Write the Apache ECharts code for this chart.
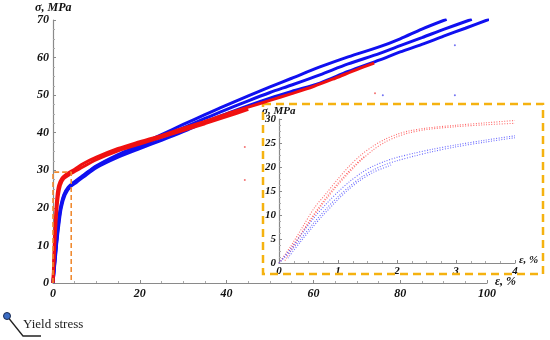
<!DOCTYPE html>
<html><head><meta charset="utf-8">
<script src="https://cdn.jsdelivr.net/npm/echarts@6/dist/echarts.min.js"></script>
<style>html,body{margin:0;padding:0;background:#fff}#c{width:550px;height:340px}</style>
</head><body><div id="c"></div>
<script>
// Main chart: strain ε (%) vs stress σ (MPa)
const redMain1 = [[0,0],[0.3,10],[0.6,18],[0.9,23],[1.3,26],[2,27.8],[3,28.9],[5,30.3],[7,31.8],[10,33.5],[15,35.8],[20,37.6],[25,39.3],[30,41.2],[35,43],[40,45],[45,46.8],[50,48.6],[55,50.4],[60,52.3],[65,54.5],[70,56.8],[74,58.5]];
const redMain2 = [[0,0],[0.4,10],[0.8,18],[1.2,23],[1.7,26],[2.5,27.8],[4,29],[6,30.3],[10,32.8],[15,35.2],[20,37],[25,38.8],[30,40.6],[35,42.4],[40,44.3],[45,46.2]];
const blueMain1 = [[0,0],[0.4,6],[0.8,11],[1.2,16],[1.7,20],[2.5,23.5],[3.5,25.5],[5,27],[7,28.7],[10,31.2],[15,34.2],[20,36.8],[25,39.5],[30,42.2],[35,44.8],[38.5,46.6],[45,49.8],[50,52.2],[55,54.5],[61.5,57.5],[68,60.2],[75.3,62.9],[80,65],[85,67.6],[90.7,70.2]];
const blueMain2 = [[0,0],[0.45,6],[0.85,11],[1.3,16],[1.8,20],[2.6,23.5],[3.7,25.5],[5,26.8],[7,28.5],[10,31],[15,33.9],[20,36.3],[25,38.8],[30,41.3],[35,43.8],[38.5,45.5],[45,48.5],[50,50.7],[55,52.7],[61.5,55.4],[68,58.3],[75.3,61.1],[80,63.2],[85,65.3],[90,67.5],[96.5,70.2]];
const blueMain3 = [[0,0],[0.5,6],[0.9,11],[1.4,16],[1.9,20],[2.8,23.5],[4,25.6],[5.5,26.9],[7,28.2],[10,30.7],[15,33.5],[20,35.8],[25,38],[30,40.3],[35,42.8],[38.5,44.4],[45,47.2],[50,49.2],[55,51],[61.5,53.2],[68,56.3],[75.3,59.4],[80,61.5],[85,63.5],[90,65.7],[95,67.8],[100.5,70.2]];
const strayRed = [[44.2,36.2],[44.2,27.4],[74.2,50.5]];
const strayBlue = [[76,50],[92.6,63.3],[92.6,50]];
const yieldBox = [[0,0],[0,29.5],[4.2,29.5],[4.2,0]];
// Inset: 0–4 % strain
const redInset1 = [[0,0],[0.2,3.5],[0.4,7.5],[0.6,11.5],[0.8,14.5],[1,17.5],[1.2,20.3],[1.4,22.6],[1.6,24.4],[1.8,25.8],[2,26.8],[2.2,27.5],[2.5,28.1],[3,28.7],[3.5,29.2],[4,29.7]];
const redInset2 = [[0,0],[0.2,3],[0.4,6.5],[0.6,10],[0.8,13.3],[1,16.3],[1.2,19],[1.4,21.5],[1.6,23.6],[1.8,25.2],[2,26.3],[2.2,27.1],[2.5,27.8],[3,28.4],[3.5,28.8],[4,29.1]];
const redInset3 = [[0.1,0.5],[0.3,4.5],[0.5,8.5],[0.7,12],[0.9,15.2],[1.1,18],[1.3,20.6],[1.45,22.2]];
const blueInset1 = [[0,0],[0.2,3],[0.4,6.3],[0.6,9.5],[0.8,12.3],[1,14.8],[1.2,17],[1.4,18.8],[1.6,20.2],[1.8,21.2],[2,22],[2.3,22.9],[2.6,23.7],[3,24.6],[3.5,25.6],[4,26.5]];
const blueInset2 = [[0,0],[0.2,2.5],[0.4,5.5],[0.6,8.5],[0.8,11.3],[1,13.8],[1.2,16],[1.4,17.9],[1.6,19.4],[1.8,20.5],[2,21.3],[2.3,22.3],[2.6,23.2],[3,24.2],[3.5,25.2],[4,26.1]];
const blueInset3 = [[0.15,1],[0.35,4.2],[0.55,7.2],[0.75,10],[0.95,12.6],[1.15,15],[1.35,17],[1.6,18.9],[1.9,20.4]];
const mainXTicks = [0,20,40,60,80,100];
const mainYTicks = [0,10,20,30,40,50,60,70];
const insetXTicks = [0,1,2,3,4];
const insetYTicks = [0,5,10,15,20,25,30];

const FONT = '"Liberation Serif", "DejaVu Serif", serif';
const lab = (sz) => ({color:'#111', fontFamily:FONT, fontStyle:'italic', fontWeight:'bold', fontSize:sz});
const axLine = {show:true, lineStyle:{color:'#8a8a8a', width:1.2}};

function xAx(gi, max, intv, sz, margin){
  return {type:'value', gridIndex:gi, min:0, max:max, interval:intv,
    axisLine:axLine, axisTick:{show:true, inside:true, length:3, lineStyle:{color:'#8a8a8a'}},
    minorTick:{show:true, splitNumber:4, length:2, lineStyle:{color:'#aaa'}},
    splitLine:{show:false}, axisLabel:Object.assign({margin:margin}, lab(sz))};
}
function yAx(gi, max, intv, sz, margin){
  return {type:'value', gridIndex:gi, min:0, max:max, interval:intv,
    axisLine:axLine, axisTick:{show:true, inside:true, length:3, lineStyle:{color:'#8a8a8a'}},
    minorTick:{show:true, splitNumber:4, length:2, lineStyle:{color:'#aaa'}},
    splitLine:{show:false}, axisLabel:Object.assign({margin:margin}, lab(sz))};
}
function ln(data, color, width, xi, extra){
  return Object.assign({type:'line', xAxisIndex:xi, yAxisIndex:xi, data:data, showSymbol:false, symbol:'none',
    smooth:0.3, lineStyle:{color:color, width:width}, silent:true, animation:false}, extra||{});
}
const dotR = {color:'#ff6a6a', width:1.1, type:[1,1.6]};
const dotB = {color:'#6a6aff', width:1.1, type:[1,1.6]};

const chart = echarts.init(document.getElementById('c'), null, {renderer:'canvas'});
chart.setOption({
  animation:false,
  backgroundColor:'#fff',
  grid:[{left:53, right:63, top:20, bottom:57, containLabel:false},
        {left:279, right:35, top:119, bottom:77, containLabel:false}],
  xAxis:[xAx(0,100,20,12,5), xAx(1,4,1,11,3)],
  yAxis:[yAx(0,70,10,12,4), yAx(1,30,5,11,3)],
  series:[
    ln(blueMain1,'#1010f0',3,0),
    ln(blueMain2,'#1010f0',3,0),
    ln(blueMain3,'#1010f0',3,0),
    ln(redMain2,'#f01010',3,0),
    ln(redMain1,'#f01010',3,0,{z:3}),
    ln(yieldBox,'#f08a30',1.5,0,{smooth:false, lineStyle:{color:'#f08a30', width:1.6, type:[5,3]}}),
    {type:'scatter', xAxisIndex:0, yAxisIndex:0, data:strayRed, symbolSize:2, itemStyle:{color:'#f05050'}, silent:true},
    {type:'scatter', xAxisIndex:0, yAxisIndex:0, data:strayBlue, symbolSize:2, itemStyle:{color:'#5050f0'}, silent:true},
    ln(redInset1,'',1,1,{lineStyle:dotR}),
    ln(redInset2,'',1,1,{lineStyle:dotR}),
    ln(redInset3,'',1,1,{lineStyle:dotR}),
    ln(blueInset1,'',1,1,{lineStyle:dotB}),
    ln(blueInset2,'',1,1,{lineStyle:dotB}),
    ln(blueInset3,'',1,1,{lineStyle:dotB})
  ],
  graphic:[
    {type:'rect', shape:{x:263, y:104, width:280, height:170}, style:{fill:null, stroke:'#f5b210', lineWidth:2.5, lineDash:[8,5]}, z:1},
    {type:'text', left:35, top:2, style:{text:'σ, MPa', font:'italic bold 12px '+FONT, fill:'#111'}},
    {type:'text', left:495, top:276, style:{text:'ε, %', font:'italic bold 12px '+FONT, fill:'#111'}},
    {type:'text', left:262, top:106, style:{text:'σ, MPa', font:'italic bold 11px '+FONT, fill:'#111'}},
    {type:'text', left:519, top:255, style:{text:'ε, %', font:'italic bold 11px '+FONT, fill:'#111'}},
    {type:'polyline', shape:{points:[[7,316],[23,336],[41,336]]}, style:{stroke:'#222', lineWidth:1.3, fill:null}},
    {type:'circle', shape:{cx:7, cy:316, r:3.5}, style:{fill:'#3a6cc4', stroke:'#1a2a50', lineWidth:1}},
    {type:'text', left:23, top:318, style:{text:'Yield stress', font:'13px '+FONT, fill:'#222'}}
  ]
});
</script></body></html>
